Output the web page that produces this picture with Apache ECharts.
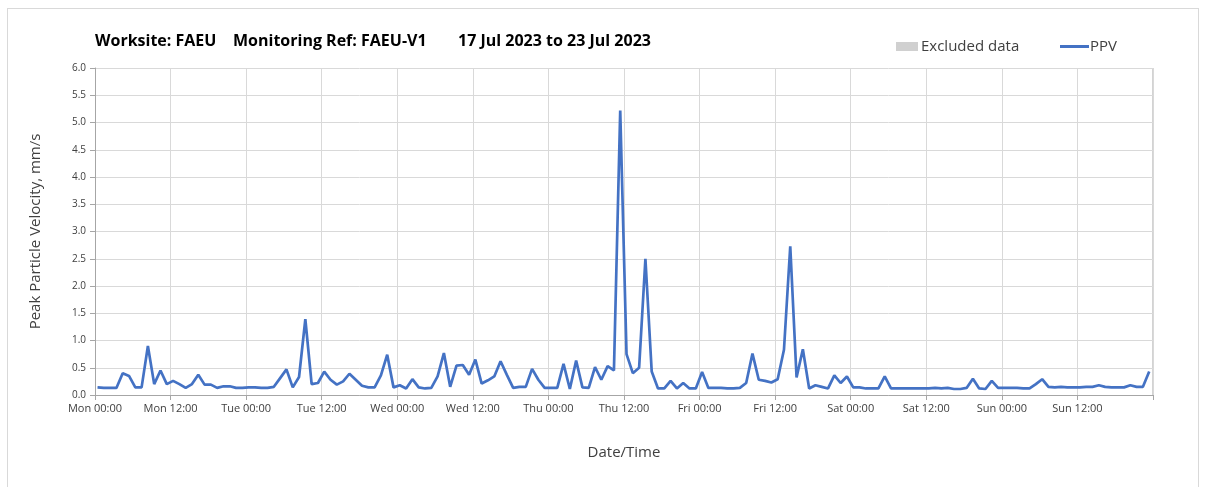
<!DOCTYPE html>
<html>
<head>
<meta charset="utf-8">
<script src="https://cdn.jsdelivr.net/npm/echarts@6/dist/echarts.min.js"></script>
<style>
  html, body { margin: 0; padding: 0; background: #fff; }
  #frame { position: absolute; left: 7px; top: 8px; width: 1192px; height: 486px; border: 1px solid #d9d9d9; box-sizing: border-box; }
  #chart { position: absolute; left: 0; top: 0; width: 1208px; height: 487px; }
</style>
</head>
<body>
<div id="frame"></div>
<div id="chart"></div>
<script>
// Tick labels every 12 hours from Mon 00:00
const tickLabels = ['Mon 00:00','Mon 12:00','Tue 00:00','Tue 12:00','Wed 00:00','Wed 12:00',
  'Thu 00:00','Thu 12:00','Fri 00:00','Fri 12:00','Sat 00:00','Sat 12:00','Sun 00:00','Sun 12:00',''];
const yTicks = ['0.0','0.5','1.0','1.5','2.0','2.5','3.0','3.5','4.0','4.5','5.0','5.5','6.0'];

// Hourly PPV readings (mm/s), first sample at ~00:24 Monday
const sampleStartHour = 0.4;
const ppvMon = [0.14,0.13,0.13,0.13,0.40,0.35,0.14,0.14,0.90,0.20,0.45,0.20,
                0.26,0.20,0.13,0.20,0.37,0.19,0.19,0.13,0.16,0.16,0.13,0.13];
const ppvTue = [0.14,0.14,0.13,0.13,0.15,0.31,0.47,0.14,0.33,1.39,0.20,0.22,
                0.43,0.28,0.19,0.25,0.39,0.28,0.17,0.14,0.14,0.36,0.74,0.14];
const ppvWed = [0.18,0.12,0.29,0.14,0.12,0.13,0.34,0.77,0.15,0.54,0.55,0.37,
                0.65,0.21,0.27,0.34,0.62,0.37,0.13,0.15,0.15,0.48,0.28,0.13];
const ppvThu = [0.13,0.13,0.57,0.11,0.63,0.14,0.13,0.51,0.28,0.53,0.45,5.22,
                0.75,0.40,0.50,2.50,0.43,0.12,0.12,0.26,0.12,0.22,0.12,0.12];
const ppvFri = [0.42,0.13,0.13,0.13,0.12,0.12,0.13,0.22,0.76,0.28,0.26,0.23,
                0.29,0.83,2.73,0.32,0.84,0.12,0.18,0.15,0.12,0.36,0.22,0.34];
const ppvSat = [0.14,0.14,0.12,0.12,0.12,0.34,0.12,0.12,0.12,0.12,0.12,0.12,
                0.12,0.13,0.12,0.13,0.11,0.11,0.13,0.30,0.12,0.11,0.26,0.13];
const ppvSun = [0.13,0.13,0.13,0.12,0.12,0.20,0.29,0.15,0.14,0.15,0.14,0.14,
                0.14,0.15,0.15,0.18,0.15,0.14,0.14,0.14,0.18,0.15,0.15,0.43];

const ppv = [].concat(ppvMon, ppvTue, ppvWed, ppvThu, ppvFri, ppvSat, ppvSun);
const seriesData = ppv.map((v, i) => [sampleStartHour + i, v]);

const textFont = '"Open Sans", "Noto Sans", sans-serif';
const titleStyle = { fontFamily: textFont, fontSize: 16, fontWeight: 'bold', color: '#000' };
const chart = echarts.init(document.getElementById('chart'), null, { renderer: 'canvas' });
chart.setOption({
  animation: false,
  textStyle: { fontFamily: textFont },
  title: [
    { text: 'Worksite: FAEU', left: 90, top: 28, textStyle: titleStyle },
    { text: 'Monitoring Ref: FAEU-V1', left: 228, top: 28, textStyle: titleStyle },
    { text: '17 Jul 2023 to 23 Jul 2023', left: 453, top: 28, textStyle: titleStyle }
  ],
  legend: [
    { data: [{ name: 'Excluded data', icon: 'rect' }], left: 891, top: 34, itemWidth: 22, itemHeight: 9, itemGap: 4,
      textStyle: { fontFamily: textFont, fontSize: 15, color: '#404040', padding: [0, 0, 0, -2] } },
    { data: [{ name: 'PPV', icon: 'rect' }], left: 1055, top: 34, itemWidth: 29, itemHeight: 3, itemGap: 4,
      textStyle: { fontFamily: textFont, fontSize: 15, color: '#404040', padding: [0, 0, 0, -4] } }
  ],
  grid: { left: 95, right: 55, top: 68, bottom: 92, containLabel: false },
  xAxis: {
    type: 'value', min: 0, max: 168, interval: 12,
    name: 'Date/Time', nameLocation: 'middle', nameGap: 50,
    nameTextStyle: { fontFamily: textFont, fontSize: 15, color: '#404040' },
    axisLine: { show: true, lineStyle: { color: '#a6a6a6', width: 1 } },
    axisTick: { show: true, length: 5, lineStyle: { color: '#a6a6a6' } },
    axisLabel: { fontFamily: textFont, fontSize: 11, color: '#404040', margin: 8,
      formatter: v => tickLabels[Math.round(v / 12)] },
    splitLine: { show: true, lineStyle: { color: '#d9d9d9', width: 1 } }
  },
  yAxis: {
    type: 'value', min: 0, max: 6, interval: 0.5,
    name: 'Peak Particle Velocity, mm/s', nameLocation: 'middle', nameGap: 52,
    nameTextStyle: { fontFamily: textFont, fontSize: 15, color: '#404040' },
    axisLine: { show: true, lineStyle: { color: '#a6a6a6', width: 1 } },
    axisTick: { show: true, length: 5, lineStyle: { color: '#a6a6a6' } },
    axisLabel: { fontFamily: textFont, fontSize: 10, color: '#404040', margin: 9,
      formatter: v => yTicks[Math.round(v * 2)] },
    splitLine: { show: true, lineStyle: { color: '#d9d9d9', width: 1 } }
  },
  series: [
    { name: 'Excluded data', type: 'line', data: [], itemStyle: { color: '#d0d0d0' }, lineStyle: { color: '#d0d0d0' } },
    { name: 'PPV', type: 'line', data: seriesData, showSymbol: false, symbol: 'none',
      itemStyle: { color: '#4472C4' }, lineStyle: { color: '#4472C4', width: 2.7 } }
  ],
  graphic: [{ type: 'line', shape: { x1: 1153, y1: 68, x2: 1153, y2: 395 }, style: { stroke: '#a6a6a6', lineWidth: 1 } }]
});
</script>
</body>
</html>
